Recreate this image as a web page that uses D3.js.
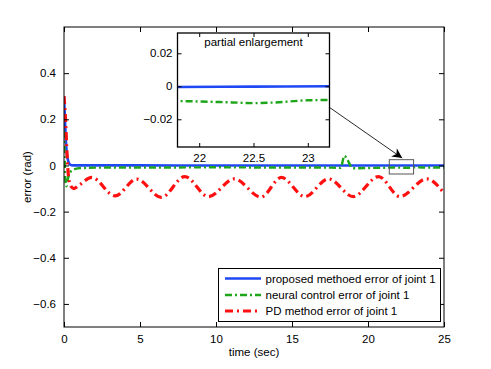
<!DOCTYPE html>
<html><head><meta charset="utf-8">
<script src="https://cdn.jsdelivr.net/npm/d3@7"></script>
<style>
html,body{margin:0;padding:0;background:#fff;}
text{font-family:"Liberation Sans",Arial,Helvetica,sans-serif;}
</style></head>
<body>
<svg id="c" width="491" height="369"></svg>
<script>
// ---- data ----
const xTicks = [0, 5, 10, 15, 20, 25];
const yTicks = [-0.6, -0.4, -0.2, 0, 0.2, 0.4];
const insetXTicks = [22, 22.5, 23];
const insetYTicks = [-0.02, 0, 0.02];
const seriesNames = ["proposed methoed error of joint 1", "neural control error of joint 1", "PD method error of joint 1"];

const blueT = [0, 0.05, 0.1, 0.15, 0.2, 0.3, 0.4, 0.6, 5, 10, 15, 20, 21.8, 22.5, 23.2, 25];
const blueV = [0.3, 0.22, 0.14, 0.08, 0.045, 0.015, 0.004, 0.0005, 0.0002, 0.0001, 0, 0, -0.0004, -0.0002, 0, 0];

const greenT = [0, 0.05, 0.1, 0.15, 0.25, 0.4, 0.7, 1.2, 3, 6, 10, 14, 17, 18.2, 18.45, 18.6, 19.0, 20, 21, 21.8, 22.0, 22.3, 22.5, 22.7, 23.0, 23.2, 24, 25];
const greenV = [0.15, 0.02, -0.07, -0.09, -0.06, -0.03, -0.016, -0.011, -0.009, -0.009, -0.008, -0.009, -0.009, -0.01, 0.042, 0.03, -0.012, -0.011, -0.01, -0.009, -0.0092, -0.0098, -0.0102, -0.0098, -0.0085, -0.0083, -0.009, -0.009];

const redT = [0, 0.1, 0.2, 0.3, 0.45, 0.65, 1.0, 1.82, 3.36, 4.78, 6.4, 7.95, 9.5, 11.2, 12.96, 14.3, 15.85, 17.4, 19.03, 20.7, 22.1, 23.86, 25];
const redV = [0.3, 0.2, 0.05, -0.05, -0.09, -0.1, -0.085, -0.052, -0.132, -0.059, -0.138, -0.048, -0.135, -0.058, -0.137, -0.052, -0.135, -0.058, -0.135, -0.048, -0.135, -0.058, -0.12];

const zoomBoxX = [21.4, 23.0];
const zoomBoxY = [-0.037, 0.025];
const arrowFrom = [17.5, 0.25];
const arrowTo = [22.25, 0.032];

// ---- layout ----
const FS = 11.5;
const svg = d3.select("#c");
const M = {l: 64, r: 444, t: 27, b: 327};
const x = d3.scaleLinear().domain([0, 25]).range([M.l, M.r]);
const y = d3.scaleLinear().domain([-0.7, 0.6]).range([M.b, M.t]);
const I = {l: 177.5, r: 329.5, t: 33, b: 147};
const xi = d3.scaleLinear().domain([21.8, 23.2]).range([I.l, I.r]);
const yi = d3.scaleLinear().domain([-0.0368, 0.0323]).range([I.b, I.t]);

const fmt = v => (v < 0 ? "\u2212" : "") + String(Math.abs(v));
const colors = ["#1f48f5", "#1ea51a", "#ff1010"];
const widths = [2.6, 2.4, 3.2];
const dashes = [null, "7,3,2,3", "8,4,2,4"];

const toPts = (T, V) => T.map((t, i) => [t, V[i]]);
const data = [toPts(blueT, blueV), toPts(greenT, greenV), toPts(redT, redV)];

const defs = svg.append("defs");
defs.append("clipPath").attr("id", "cm").append("rect")
  .attr("x", M.l).attr("y", M.t).attr("width", M.r - M.l).attr("height", M.b - M.t);
defs.append("clipPath").attr("id", "ci").append("rect")
  .attr("x", I.l).attr("y", I.t).attr("width", I.r - I.l).attr("height", I.b - I.t);
defs.append("marker").attr("id", "ah").attr("viewBox", "0 0 10 10").attr("refX", 10).attr("refY", 5)
  .attr("markerWidth", 14).attr("markerHeight", 10).attr("markerUnits", "userSpaceOnUse").attr("orient", "auto")
  .append("path").attr("d", "M0,0 L10,5 L0,10 L3,5 Z").attr("fill", "#000");

svg.append("rect").attr("x", M.l).attr("y", M.t).attr("width", M.r - M.l).attr("height", M.b - M.t)
  .attr("fill", "#fff");

// main lines
const gm = svg.append("g").attr("clip-path", "url(#cm)");
data.forEach((d, i) => {
  const line = d3.line().x(p => x(p[0])).y(p => y(p[1])).curve(d3.curveMonotoneX);
  gm.append("path").attr("d", line(d)).attr("fill", "none").attr("stroke", colors[i])
    .attr("stroke-width", widths[i]).attr("stroke-dasharray", dashes[i]);
});

// main axes
const axB = d3.axisBottom(x).tickValues(xTicks).tickSizeInner(-5).tickSizeOuter(0).tickPadding(8).tickFormat(d => d);
const axT = d3.axisTop(x).tickValues(xTicks).tickSizeInner(-5).tickSizeOuter(0).tickFormat("");
const axL = d3.axisLeft(y).tickValues(yTicks).tickSizeInner(-5).tickSizeOuter(0).tickPadding(8).tickFormat(fmt);
const axR = d3.axisRight(y).tickValues(yTicks).tickSizeInner(-5).tickSizeOuter(0).tickFormat("");
function styleAx(g) {
  g.select(".domain").remove();
  g.selectAll("line").attr("stroke", "#000");
  g.selectAll("text").attr("font-size", FS).attr("fill", "#000");
}
svg.append("g").attr("transform", `translate(0,${M.b})`).call(axB).call(styleAx);
svg.append("g").attr("transform", `translate(0,${M.t})`).call(axT).call(styleAx);
svg.append("g").attr("transform", `translate(${M.l},0)`).call(axL).call(styleAx);
svg.append("g").attr("transform", `translate(${M.r},0)`).call(axR).call(styleAx);
svg.append("rect").attr("x", M.l).attr("y", M.t).attr("width", M.r - M.l).attr("height", M.b - M.t)
  .attr("fill", "none").attr("stroke", "#000").attr("stroke-width", 1);

// axis labels
svg.append("text").attr("x", (M.l + M.r) / 2).attr("y", 356).attr("text-anchor", "middle")
  .attr("font-size", FS).text("time (sec)");
svg.append("text").attr("transform", `translate(31,${(M.t + M.b) / 2}) rotate(-90)`).attr("text-anchor", "middle")
  .attr("font-size", FS).text("error (rad)");

// zoom box
svg.append("rect").attr("x", x(zoomBoxX[0])).attr("y", y(zoomBoxY[1]))
  .attr("width", x(zoomBoxX[1]) - x(zoomBoxX[0])).attr("height", y(zoomBoxY[0]) - y(zoomBoxY[1]))
  .attr("fill", "none").attr("stroke", "#555").attr("stroke-width", 1);
// arrow
svg.append("line").attr("x1", x(arrowFrom[0])).attr("y1", y(arrowFrom[1]))
  .attr("x2", x(arrowTo[0])).attr("y2", y(arrowTo[1]))
  .attr("stroke", "#111").attr("stroke-width", 0.9).attr("marker-end", "url(#ah)");

// inset
svg.append("rect").attr("x", I.l).attr("y", I.t).attr("width", I.r - I.l).attr("height", I.b - I.t).attr("fill", "#fff");
const gi = svg.append("g").attr("clip-path", "url(#ci)");
[0, 1].forEach(i => {
  const line = d3.line().x(p => xi(p[0])).y(p => yi(p[1])).curve(d3.curveMonotoneX);
  gi.append("path").attr("d", line(data[i])).attr("fill", "none").attr("stroke", colors[i])
    .attr("stroke-width", widths[i]).attr("stroke-dasharray", dashes[i]);
});
const iB = d3.axisBottom(xi).tickValues(insetXTicks).tickSizeInner(-4).tickSizeOuter(0).tickPadding(7).tickFormat(d => d);
const iT = d3.axisTop(xi).tickValues(insetXTicks).tickSizeInner(-4).tickSizeOuter(0).tickFormat("");
const iL = d3.axisLeft(yi).tickValues(insetYTicks).tickSizeInner(-4).tickSizeOuter(0).tickPadding(5).tickFormat(fmt);
const iR = d3.axisRight(yi).tickValues(insetYTicks).tickSizeInner(-4).tickSizeOuter(0).tickFormat("");
svg.append("g").attr("transform", `translate(0,${I.b})`).call(iB).call(styleAx);
svg.append("g").attr("transform", `translate(0,${I.t})`).call(iT).call(styleAx);
svg.append("g").attr("transform", `translate(${I.l},0)`).call(iL).call(styleAx);
svg.append("g").attr("transform", `translate(${I.r},0)`).call(iR).call(styleAx);
svg.append("rect").attr("x", I.l).attr("y", I.t).attr("width", I.r - I.l).attr("height", I.b - I.t)
  .attr("fill", "none").attr("stroke", "#000").attr("stroke-width", 1.3);
svg.append("text").attr("x", (I.l + I.r) / 2).attr("y", 46).attr("text-anchor", "middle")
  .attr("font-size", FS).text("partial enlargement");

// legend
const L = {x: 218.5, y: 268.5, w: 222, h: 53};
svg.append("rect").attr("x", L.x).attr("y", L.y).attr("width", L.w).attr("height", L.h)
  .attr("fill", "#fff").attr("stroke", "#000").attr("stroke-width", 1);
const rowY = [278.5, 295, 311];
seriesNames.forEach((n, i) => {
  svg.append("line").attr("x1", 225).attr("x2", 261).attr("y1", rowY[i]).attr("y2", rowY[i])
    .attr("stroke", colors[i]).attr("stroke-width", widths[i]).attr("stroke-dasharray", dashes[i]);
  svg.append("text").attr("x", 265.5).attr("y", rowY[i] + 4).attr("font-size", FS).text(n);
});
</script>
</body></html>
